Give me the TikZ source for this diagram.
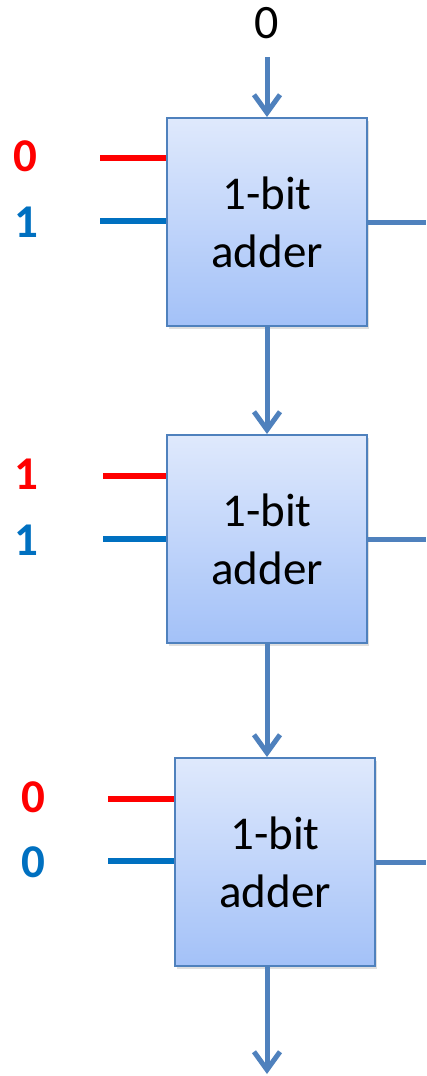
\documentclass[tikz,border=0pt]{standalone}
\usepackage{fontspec}
\setmainfont{Carlito}
\usetikzlibrary{arrows.meta,shadows}
\definecolor{wire}{HTML}{4F81BD}
\definecolor{boxtop}{HTML}{DFE9FC}
\definecolor{boxbot}{HTML}{A3C1F8}
\definecolor{inA}{HTML}{FF0000}
\definecolor{inB}{HTML}{0070C0}
\begin{document}
\begin{tikzpicture}[x=1pt,y=-1pt,
  adder/.style={draw=wire,line width=2pt,top color=boxtop,bottom color=boxbot,
    minimum width=200pt,minimum height=208pt,inner sep=0pt,align=center,
    font=\fontsize{47}{58}\selectfont,
    drop shadow={opacity=0.25,shadow xshift=2pt,shadow yshift=-3pt}},
  carry/.style={draw=wire,line width=5pt,-{Straight Barb[length=18pt,width=26pt,line width=5pt]}},
  sumwire/.style={draw=wire,line width=5pt},
  awire/.style={draw=inA,line width=6pt},
  bwire/.style={draw=inB,line width=6pt},
  alabel/.style={text=inA,font=\fontsize{47}{47}\selectfont\bfseries,inner sep=0pt},
  blabel/.style={text=inB,font=\fontsize{47}{47}\selectfont\bfseries,inner sep=0pt},
  cinlabel/.style={font=\fontsize{48}{48}\selectfont,inner sep=0pt}]
\useasboundingbox (0,0) rectangle (426,1076);

% adder blocks
\node[adder] (b1) at (267,222) {1-bit\\adder};
\node[adder] (b2) at (267,539) {1-bit\\adder};
\node[adder] (b3) at (275,862) {1-bit\\adder};

% carry-in
\node[cinlabel] (cin) at (267,23) {0};
\coordinate (cintop) at (267,57);
\draw[carry] (cintop) -- (b1.north);

% carry chain
\draw[carry] (b1.south) -- (b2.north);
\draw[carry] (b2.south) -- (b2.south |- b3.north);
\coordinate (cout) at (267,1074);
\draw[carry] (b2.south |- b3.south) -- (cout);

% sum outputs
\coordinate (s1) at (426,222);
\coordinate (s2) at (426,539);
\coordinate (s3) at (426,862);
\draw[sumwire] (b1.east) -- (s1);
\draw[sumwire] (b2.east) -- (s2);
\draw[sumwire] (b3.east) -- (s3);

% operand inputs, bit 0
\node[alabel] (a1) at (25,156) {0};
\node[blabel] (c1) at (26,222) {1};
\coordinate (a1w) at (100,158);
\coordinate (c1w) at (100,221);
\draw[awire] (a1w) -- (a1w -| b1.west);
\draw[bwire] (c1w) -- (c1w -| b1.west);

% operand inputs, bit 1
\node[alabel] (a2) at (26,474) {1};
\node[blabel] (c2) at (26,540) {1};
\coordinate (a2w) at (103,476);
\coordinate (c2w) at (103,539);
\draw[awire] (a2w) -- (a2w -| b2.west);
\draw[bwire] (c2w) -- (c2w -| b2.west);

% operand inputs, bit 2
\node[alabel] (a3) at (33,797) {0};
\node[blabel] (c3) at (33,862) {0};
\coordinate (a3w) at (108,799);
\coordinate (c3w) at (108,861);
\draw[awire] (a3w) -- (a3w -| b3.west);
\draw[bwire] (c3w) -- (c3w -| b3.west);
\end{tikzpicture}
\end{document}
